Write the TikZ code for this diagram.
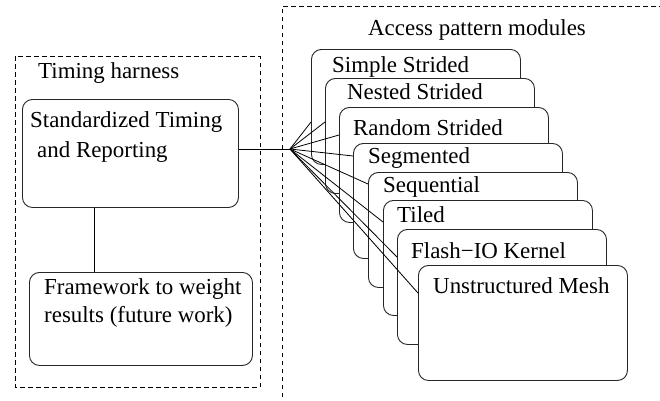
\documentclass[tikz,border=0pt]{standalone}
\usepackage{fontspec}
\setmainfont{Liberation Serif}
\begin{document}
\begin{tikzpicture}[x=1bp,y=-1bp,
  every node/.style={font=\fontsize{23}{29}\selectfont},
  grp/.style={draw=black,line width=0.8bp,dash pattern=on 4.5bp off 3.5bp},
  hbox/.style={draw=black!85,line width=0.9bp,rounded corners=10bp,fill=white,anchor=north west,inner sep=0pt},
  modbox/.style={hbox,minimum width=209bp,minimum height=115bp},
  txt/.style={anchor=base west,inner sep=0pt},
  conn/.style={draw=black,line width=0.8bp}]
\useasboundingbox (0,0) rectangle (660,400);
% groups
\draw[grp] (15,56) rectangle (260,387);
\draw[grp] (282,405) -- (282,6) -- (665,6);
\node[txt] (tht) at (38,78) {Timing harness};
\node[txt] (apt) at (368,35) {Access pattern modules};
% timing harness boxes
\node[hbox,minimum width=216bp,minimum height=108bp] (h1) at (22,99) {};
\node[txt] (h1t) at ([xshift=8bp,yshift=-28bp]h1.north west) {Standardized Timing};
\node[txt] (h1u) at ([xshift=15bp,yshift=-58bp]h1.north west) {and Reporting};
\node[hbox,minimum width=223bp,minimum height=93bp] (h2) at (29,272) {};
\node[txt] (h2t) at ([xshift=15bp,yshift=-22bp]h2.north west) {Framework to weight};
\node[txt] (h2u) at ([xshift=15bp,yshift=-50bp]h2.north west) {results (future work)};
\draw[conn] ([xshift=72bp]h1.south west) -- ([xshift=72bp]h1.south west |- h2.north);
\coordinate (hub) at (290,149);
\draw[conn] (hub -| h1.east) -- (hub);
% modules
\node[modbox] (m1) at (311,49) {};
\node[txt] (l1) at ([xshift=21bp,yshift=-23bp]m1.north west) {Simple Strided};
\node[modbox] (m2) at (325,78) {};
\node[txt] (l2) at ([xshift=22bp,yshift=-21bp]m2.north west) {Nested Strided};
\node[modbox] (m3) at (339,107) {};
\node[txt] (l3) at ([xshift=14bp,yshift=-28bp]m3.north west) {Random Strided};
\node[modbox] (m4) at (353,143) {};
\node[txt] (l4) at ([xshift=15bp,yshift=-20bp]m4.north west) {Segmented};
\node[modbox] (m5) at (368,172) {};
\node[txt] (l5) at ([xshift=15bp,yshift=-20bp]m5.north west) {Sequential};
\node[modbox] (m6) at (383,200) {};
\node[txt] (l6) at ([xshift=14bp,yshift=-22bp]m6.north west) {Tiled};
\node[modbox] (m7) at (397,229) {};
\node[txt] (l7) at ([xshift=14bp,yshift=-29bp]m7.north west) {Flash−IO Kernel};
\node[modbox] (m8) at (418,265) {};
\node[txt] (l8) at ([xshift=15bp,yshift=-28bp]m8.north west) {Unstructured Mesh};
% fan-out connectors
\draw[conn] (hub) -- ([yshift=-73bp]m1.north west);
\draw[conn] (hub) -- ([yshift=-44bp]m2.north west);
\draw[conn] (hub) -- ([yshift=-28bp]m3.north west);
\draw[conn] (hub) -- ([yshift=-13bp]m4.north west);
\draw[conn] (hub) -- ([yshift=-12bp]m5.north west);
\draw[conn] (hub) -- ([yshift=-22bp]m6.north west);
\draw[conn] (hub) -- ([yshift=-28bp]m7.north west);
\draw[conn] (hub) -- ([yshift=-28bp]m8.north west);
\end{tikzpicture}
\end{document}
